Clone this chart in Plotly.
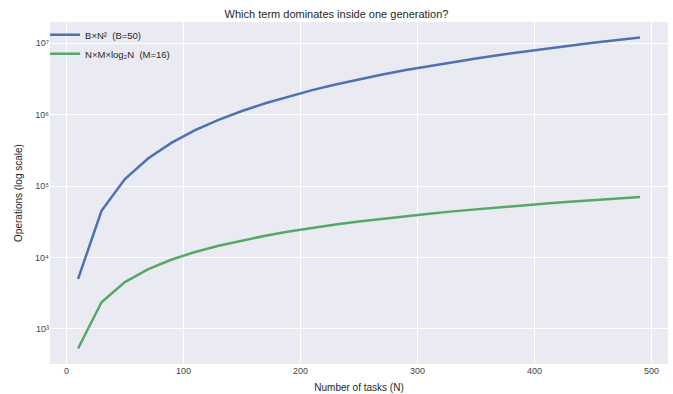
import plotly.graph_objects as go
import math

N = [10, 30, 50, 70, 90, 110, 130, 150, 170, 190, 210, 230, 250, 270, 290,
     310, 330, 350, 370, 390, 410, 430, 450, 470, 490]
quad = [5000, 45000, 125000, 245000, 405000, 605000, 845000, 1125000, 1445000,
        1805000, 2205000, 2645000, 3125000, 3645000, 4205000, 4805000, 5445000,
        6125000, 6845000, 7605000, 8405000, 9245000, 10125000, 11045000, 12005000]
nlog = [531.5, 2355.3, 4515.1, 6864.8, 9348.3, 11935.3, 14606.6, 17349.2,
        20153.5, 23012.5, 25919.8, 28871.4, 31863.1, 34891.8, 37954.7, 41049.5,
        44174.0, 47326.7, 50505.9, 53709.6, 56937.5, 60187.6, 63459.4, 66751.3,
        70063.0]
ytick_vals = [1e3, 1e4, 1e5, 1e6, 1e7]
ytick_text = ["10³", "10⁴", "10⁵", "10⁶", "10⁷"]
xtick_vals = [0, 100, 200, 300, 400, 500]

fig = go.Figure()
fig.add_trace(go.Scatter(x=N, y=quad, mode="lines", name="B×N²  (B=50)",
                         line=dict(color="#4C72B0", width=2.5)))
fig.add_trace(go.Scatter(x=N, y=nlog, mode="lines", name="N×M×log₂N  (M=16)",
                         line=dict(color="#55A868", width=2.5)))

ymin = math.log10(min(nlog)); ymax = math.log10(max(quad))
pad = (ymax - ymin) * 0.05
fig.update_layout(
    width=673, height=394,
    margin=dict(l=50, r=5, t=22, b=30),
    paper_bgcolor="white", plot_bgcolor="#EAEAF2",
    font=dict(family="Liberation Sans, Arial, sans-serif", size=10, color="#262626"),
    title=dict(text="Which term dominates inside one generation?", x=0.5, xanchor="center",
               y=0.975, yanchor="top", font=dict(size=11, color="#262626")),
    xaxis=dict(range=[-14, 514], tickvals=xtick_vals, showgrid=True, gridcolor="white",
               gridwidth=1, zeroline=False, showline=False, ticks="", automargin=False,
               title=dict(text="Number of tasks (N)", font=dict(size=10), standoff=8),
               tickfont=dict(size=9, color="#444")),
    yaxis=dict(type="log", range=[ymin - pad, ymax + pad], tickvals=ytick_vals,
               ticktext=ytick_text, showgrid=True, gridcolor="white", gridwidth=1,
               zeroline=False, showline=False, ticks="", automargin=False,
               title=dict(text="Operations (log scale)", font=dict(size=10), standoff=10),
               tickfont=dict(size=9, color="#444")),
    legend=dict(x=-0.008, y=1.005, xanchor="left", yanchor="top", bgcolor="rgba(0,0,0,0)",
                font=dict(size=9.5, color="#262626"), tracegroupgap=0),
    showlegend=True,
)
fig.write_html("out.html", config={"displayModeBar": False})

with open("out.html", "r", encoding="utf-8") as f:
    html = f.read()
html = html.replace("<head>", "<head><style>html,body{margin:0;padding:0;overflow:hidden;}</style>", 1)
with open("out.html", "w", encoding="utf-8") as f:
    f.write(html)
